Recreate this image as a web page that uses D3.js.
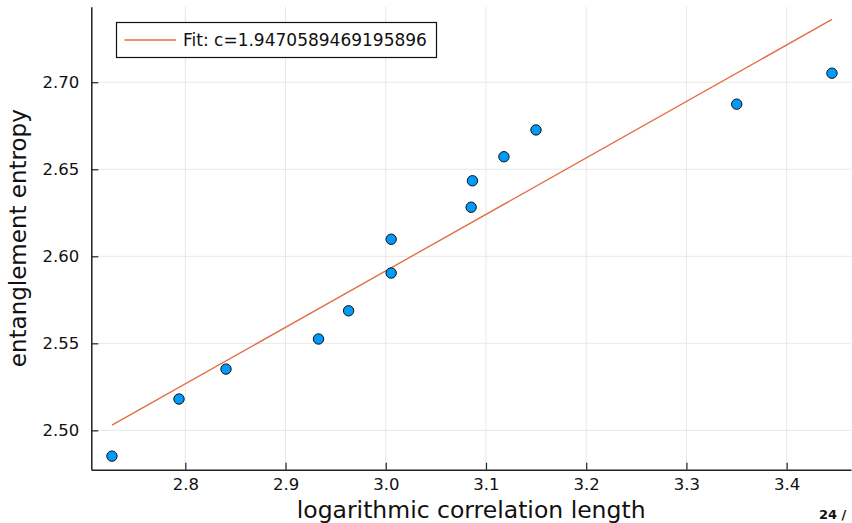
<!DOCTYPE html>
<html lang="en">
<head>
    <meta charset="UTF-8">
    <title>entanglement entropy fit</title>
    <script src="https://cdn.jsdelivr.net/npm/d3@7"></script>
</head>
<style>
    body { margin: 0; background: #fff; }
    svg { display: block; font-family: "DejaVu Sans", sans-serif; }
</style>
<body>
    <div id="graphDiv"></div>

    <script>
        // data
        var logCorrLength = [2.7268, 2.7937, 2.8406, 2.9329, 2.9629, 3.0054, 3.0054,
                             3.0852, 3.0865, 3.1179, 3.1499, 3.3502, 3.4452]
        var entropy = [2.4852, 2.5180, 2.5352, 2.5525, 2.5687, 2.6098, 2.5904,
                       2.6282, 2.6434, 2.6572, 2.6726, 2.6874, 2.7052]
        var fitC = 1.9470589469195896
        var fitIntercept = 1.6181
        var xTicks = [2.8, 2.9, 3.0, 3.1, 3.2, 3.3, 3.4]
        var yTicks = [2.50, 2.55, 2.60, 2.65, 2.70]

        var width = 852
        var height = 523
        var plotLeft = 91.3, plotRight = 851, plotTop = 6.7, plotBottom = 469.7

        var svg = d3.select('#graphDiv')
                    .append('svg')
                    .attr('width', width)
                    .attr('height', height)

        var xScale = d3.scaleLinear()
                        .domain([2.7062, 3.4642])
                        .range([plotLeft, plotRight])
        var yScale = d3.scaleLinear()
                        .domain([2.4774, 2.7434])
                        .range([plotBottom, plotTop])

        // grid
        var grid = svg.append('g').attr('stroke', '#e8e8e8').attr('stroke-width', 1)
        grid.selectAll('.gx').data(xTicks).join('line')
            .attr('x1', d => xScale(d)).attr('x2', d => xScale(d))
            .attr('y1', plotTop).attr('y2', plotBottom)
        grid.selectAll('.gy').data(yTicks).join('line')
            .attr('x1', plotLeft).attr('x2', plotRight)
            .attr('y1', d => yScale(d)).attr('y2', d => yScale(d))

        // axes, ticks pointing inwards
        var xAxis = d3.axisBottom(xScale)
                        .tickValues(xTicks)
                        .tickFormat(d3.format('.1f'))
                        .tickSizeInner(-7)
                        .tickSizeOuter(0)
                        .tickPadding(9)
        var yAxis = d3.axisLeft(yScale)
                        .tickValues(yTicks)
                        .tickFormat(d3.format('.2f'))
                        .tickSizeInner(-7)
                        .tickSizeOuter(0)
                        .tickPadding(12)

        var gx = svg.append('g')
                    .attr('transform', 'translate(0,' + plotBottom + ')')
                    .call(xAxis)
        var gy = svg.append('g')
                    .attr('transform', 'translate(' + plotLeft + ',0)')
                    .call(yAxis)

        ;[gx, gy].forEach(g => {
            g.select('.domain').attr('stroke', '#222').attr('stroke-width', 1.5)
            g.selectAll('.tick line').attr('stroke', '#222').attr('stroke-width', 1.2)
            g.selectAll('.tick text')
                .attr('fill', '#111')
                .style('font-family', '"DejaVu Sans", sans-serif')
                .style('font-size', '16.5px')
        })

        // fit line over the data range
        var xExt = d3.extent(logCorrLength)
        var fitPts = xExt.map(x => [x, fitC / 6 * x + fitIntercept])
        svg.append('path')
            .datum(fitPts)
            .attr('fill', 'none')
            .attr('stroke', '#e26f46')
            .attr('stroke-width', 1.4)
            .attr('d', d3.line().x(d => xScale(d[0])).y(d => yScale(d[1])))

        // data points
        svg.append('g')
            .selectAll('circle')
            .data(logCorrLength)
            .join('circle')
            .attr('cx', d => xScale(d))
            .attr('cy', (d, i) => yScale(entropy[i]))
            .attr('r', 5.2)
            .attr('fill', '#009afa')
            .attr('stroke', '#111')
            .attr('stroke-width', 1)

        // legend
        var leg = svg.append('g')
        leg.append('rect')
            .attr('x', 116.5).attr('y', 22.5)
            .attr('width', 320).attr('height', 35)
            .attr('fill', '#fff').attr('stroke', '#111').attr('stroke-width', 1.2)
        leg.append('line')
            .attr('x1', 124.5).attr('x2', 176)
            .attr('y1', 40).attr('y2', 40)
            .attr('stroke', '#e26f46').attr('stroke-width', 1.4)
        leg.append('text')
            .attr('x', 183).attr('y', 46)
            .style('font-size', '17px')
            .attr('fill', '#111')
            .text('Fit: c=' + fitC)

        // axis labels
        svg.append('text')
            .attr('x', (plotLeft + plotRight) / 2).attr('y', 518)
            .attr('text-anchor', 'middle')
            .style('font-size', '23.5px')
            .attr('fill', '#111')
            .text('logarithmic correlation length')
        svg.append('text')
            .attr('transform', 'translate(26,' + (plotTop + plotBottom) / 2 + ') rotate(-90)')
            .attr('text-anchor', 'middle')
            .style('font-size', '23px')
            .attr('fill', '#111')
            .text('entanglement entropy')

        // slide page number (only this much is visible)
        svg.append('text')
            .attr('x', 819).attr('y', 519)
            .style('font-size', '13px')
            .style('font-weight', 'bold')
            .attr('fill', '#111')
            .text('24 /')
    </script>
</body>
</html>
